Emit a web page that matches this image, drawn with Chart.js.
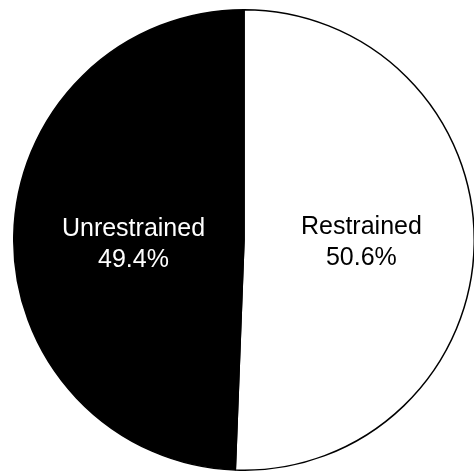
<!DOCTYPE html>
<html>
<head>
<script src="https://cdn.jsdelivr.net/npm/chart.js@4"></script>
<style>
  html, body { margin: 0; padding: 0; background: #fff; overflow: hidden; width: 474px; height: 473px; }
  #wrap { position: absolute; left: 13px; top: 9px; width: 462px; height: 462px; }
</style>
</head>
<body>
<div id="wrap"><canvas id="pieChart"></canvas></div>
<script>
const labels = ["Restrained", "Unrestrained"];
const values = [50.6, 49.4];
const colors = ["#ffffff", "#000000"];
const textColors = ["#000000", "#ffffff"];

// writes the name and percent inside each slice, on one level across the pie
const sliceLabels = {
  id: "sliceLabels",
  afterDatasetsDraw(chart) {
    const ctx = chart.ctx;
    const meta = chart.getDatasetMeta(0);
    ctx.save();
    ctx.font = "25px 'Liberation Sans', Arial, sans-serif";
    ctx.textAlign = "center";
    ctx.textBaseline = "middle";
    meta.data.forEach(function(arc, i){
      const mid = (arc.startAngle + arc.endAngle) / 2;
      const x = arc.x + Math.cos(mid) * arc.outerRadius * (i == 0 ? 0.51 : 0.48);
      const y = arc.y - 13 + i * 2;
      ctx.fillStyle = textColors[i];
      ctx.fillText(labels[i], x, y);
      ctx.fillText(values[i].toFixed(1) + "%", x, y + 31);
    });
    ctx.restore();
  }
};

new Chart(document.getElementById("pieChart"), {
  type: "pie",
  data: {
    labels: labels,
    datasets: [{
      data: values,
      backgroundColor: colors,
      borderColor: "#000000",
      borderWidth: 1.5
    }]
  },
  options: {
    responsive: true,
    maintainAspectRatio: false,
    animation: false,
    plugins: { legend: { display: false }, tooltip: { enabled: false } }
  },
  plugins: [sliceLabels]
});
</script>
</body>
</html>
